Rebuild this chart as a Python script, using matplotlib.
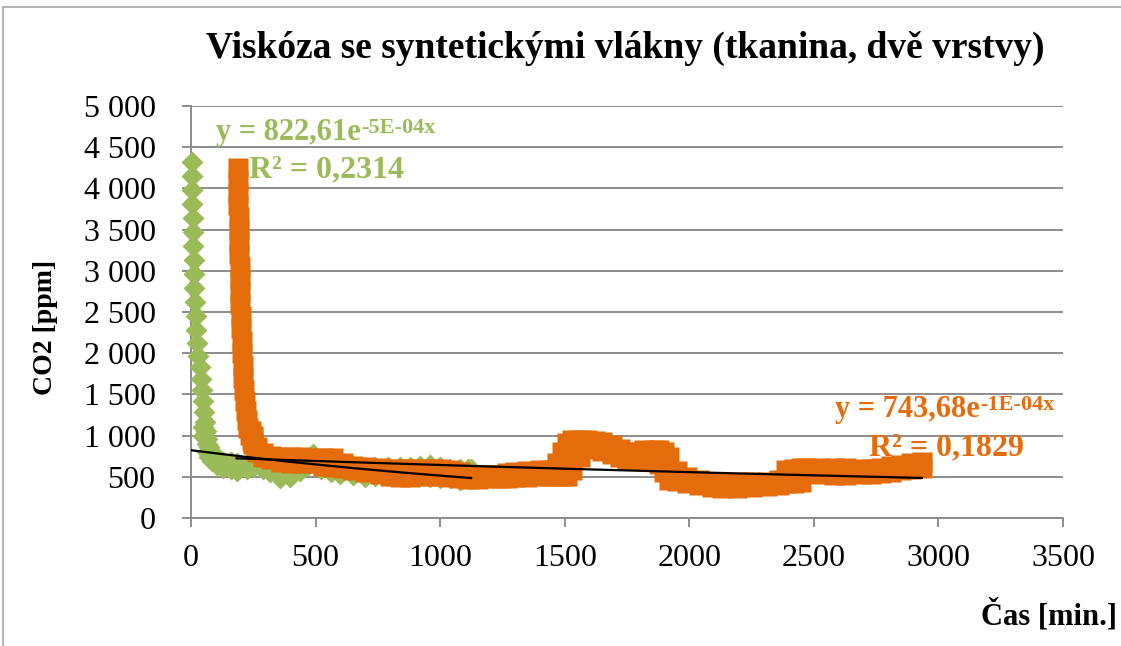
import matplotlib
matplotlib.use("Agg")
import matplotlib.pyplot as plt
from matplotlib.patches import Rectangle
from matplotlib.ticker import FuncFormatter
import numpy as np

# ---- measured CO2 readings -------------------------------------------------
# Green series: steep initial drop (single readings), then the noisy plateau
# given as upper / lower readings at each time.
green_drop_t = [3, 4, 5, 6, 7, 8, 9, 11, 12, 14, 16, 19, 22, 26, 30, 35, 40,
                44, 48, 52, 56, 60, 65]
green_drop_ppm = [4320, 4150, 3980, 3810, 3640, 3470, 3300, 3130, 2960, 2790,
                  2620, 2450, 2280, 2120, 1970, 1830, 1690, 1550, 1420, 1290,
                  1170, 1060, 960]
green_t = [50, 64, 72, 85, 104, 130, 160, 183, 224, 250, 290, 317, 357, 397,
           438, 464, 490, 520, 560, 600, 650, 700, 740, 790, 840, 880, 920,
           960, 1000, 1040, 1080, 1110, 1125]
green_hi = [1100, 900, 860, 800, 730, 680, 680, 670, 650, 640, 640, 640, 640,
            640, 650, 680, 777, 700, 650, 640, 630, 620, 620, 620, 620, 625,
            630, 644, 620, 600, 590, 595, 590]
green_lo = [1000, 800, 740, 690, 643, 610, 590, 571, 600, 620, 590, 560, 486,
            500, 571, 631, 668, 600, 560, 530, 520, 500, 505, 515, 520, 515,
            505, 495, 490, 480, 461, 480, 500]

# Orange series
orange_drop_t = [189, 189, 190, 190, 191, 192, 193, 194, 195, 196, 197, 198,
                 200, 201, 203, 205, 207, 209, 212, 215, 219, 223, 228, 235,
                 240, 243, 250]
orange_drop_ppm = [4250, 4100, 3950, 3800, 3650, 3500, 3350, 3200, 3050, 2900,
                   2750, 2600, 2450, 2300, 2150, 2000, 1850, 1700, 1550, 1420,
                   1300, 1190, 1090, 1010, 1060, 950, 1000]
orange_t = [250, 265, 290, 320, 360, 400, 440, 490, 530, 570, 610, 650, 700,
            760, 800, 840, 880, 920, 970, 1000, 1040, 1080, 1110, 1150, 1200,
            1240, 1270, 1300, 1350, 1400, 1440, 1470, 1490, 1510, 1530, 1560,
            1590, 1620, 1650, 1690, 1720, 1750, 1800, 1820, 1860, 1880, 1900,
            1920, 1950, 1990, 2040, 2090, 2130, 2190, 2250, 2310, 2360, 2390,
            2420, 2450, 2470, 2520, 2580, 2630, 2690, 2730, 2770, 2810, 2850,
            2890, 2934]
orange_hi = [940, 862, 790, 750, 745, 740, 735, 732, 732, 732, 665, 635, 625,
             610, 598, 590, 590, 590, 590, 590, 588, 555, 525, 525, 525, 525,
             545, 562, 572, 580, 585, 668, 800, 911, 950, 950, 950, 938, 922,
             882, 842, 805, 805, 828, 828, 828, 800, 741, 571, 498, 461, 437,
             425, 425, 437, 437, 461, 583, 600, 610, 610, 610, 610, 610, 590,
             600, 610, 628, 646, 668, 682]
orange_lo = [900, 800, 740, 710, 675, 670, 668, 664, 636, 615, 606, 578, 560,
             540, 515, 494, 500, 510, 515, 505, 494, 480, 470, 475, 480, 480,
             488, 494, 500, 505, 505, 505, 505, 515, 583, 741, 850, 835, 815,
             775, 735, 700, 700, 700, 700, 650, 560, 465, 445, 420, 396, 372,
             360, 360, 372, 384, 397, 420, 426, 432, 542, 530, 524, 518, 530,
             536, 542, 560, 580, 592, 605]

# Exponential trend lines  y = a * exp(-k * t)
green_fit_a, green_fit_k, green_fit_r2 = 822.61, 4.7e-4, 0.2314
orange_fit_a, orange_fit_k, orange_fit_r2 = 743.68, 1.45e-4, 0.1829
green_fit_range = (0, 1124)
orange_fit_range = (183, 2934)

x_ticks = [0, 500, 1000, 1500, 2000, 2500, 3000, 3500]
y_ticks = [0, 500, 1000, 1500, 2000, 2500, 3000, 3500, 4000, 4500, 5000]

title = "Viskóza se syntetickými vlákny (tkanina, dvě vrstvy)"
x_label = "Čas [min.]"
y_label = "CO2 [ppm]"

GREEN = "#9BBB59"
ORANGE = "#E46C0A"
GRID = "#8C8C8C"
SERIF = ["Liberation Serif", "DejaVu Serif"]

plt.rcParams["font.family"] = SERIF

W, H = 1121, 646
fig = plt.figure(figsize=(W / 100, H / 100), dpi=100)
ax = fig.add_axes([191 / W, 1 - 518 / H, 872 / W, 412 / H])

# chart frame
fig.patches.append(Rectangle((3 / W, -0.1), 1.2, 1 - 7 / H + 0.1,
                             transform=fig.transFigure, fill=False,
                             ec="#A6A6A6", lw=1.2))

# data markers
marker_style = dict(ls="none", mec="none", clip_on=False)
ax.plot(green_drop_t, green_drop_ppm, marker="D", ms=11, color=GREEN,
        zorder=3, **marker_style)
ax.plot(green_t + green_t, green_hi + green_lo, marker="D", ms=11,
        color=GREEN, zorder=3, **marker_style)
ax.plot(orange_drop_t, orange_drop_ppm, marker="s", ms=15, color=ORANGE,
        zorder=4, **marker_style)
ax.plot(orange_t + orange_t, orange_hi + orange_lo, marker="s", ms=15,
        color=ORANGE, zorder=4, **marker_style)

# trend lines
for a, k, (t0, t1) in [(green_fit_a, green_fit_k, green_fit_range),
                       (orange_fit_a, orange_fit_k, orange_fit_range)]:
    tt = np.linspace(t0, t1, 200)
    ax.plot(tt, a * np.exp(-k * tt), color="black", lw=1.6, zorder=5)

ax.set_xlim(0, 3500)
ax.set_ylim(0, 5000)
ax.set_xticks(x_ticks)
ax.set_yticks(y_ticks)
ax.yaxis.set_major_formatter(
    FuncFormatter(lambda v, p: f"{int(v):,}".replace(",", " ")))
ax.xaxis.set_major_formatter(FuncFormatter(lambda v, p: f"{int(v)}"))

ax.grid(axis="y", color=GRID, lw=1.4, zorder=1)
ax.set_axisbelow(True)
for side in ("top", "right"):
    ax.spines[side].set_visible(False)
for side in ("left", "bottom"):
    ax.spines[side].set_color(GRID)
    ax.spines[side].set_linewidth(1.4)
ax.tick_params(axis="both", direction="out", length=6.5, width=1.4,
               color=GRID, labelsize=23, labelcolor="black")
ax.tick_params(axis="y", pad=19)
ax.tick_params(axis="x", pad=12)

fig.text(625 / W, 1 - 48 / H, title, ha="center", va="center",
         fontsize=27, fontweight="bold")
fig.text(45 / W, 1 - 327 / H, y_label, rotation=90, ha="center",
         va="center", fontsize=20, fontweight="bold")
fig.text(1117 / W, 1 - 615 / H, x_label, ha="right", va="center",
         fontsize=22, fontweight="bold")


def fit_label(x_px, base_px, a, k, r2, color, r2_x_px, r2_base_px):
    main = fig.text(x_px / W, 1 - base_px / H,
                    f"y = {a:.2f}".replace(".", ",") + "e",
                    ha="left", va="baseline", fontsize=22,
                    fontweight="bold", color=color)
    sup = f"{-k:.0E}" + "x"
    ax.annotate(sup, xy=(1, 1), xycoords=main, xytext=(0, 0),
                textcoords="offset points", ha="left", va="top",
                fontsize=16, fontweight="bold", color=color)
    fig.text(r2_x_px / W, 1 - r2_base_px / H,
             f"R² = {r2:.4f}".replace(".", ","), ha="left", va="baseline",
             fontsize=23, fontweight="bold", color=color)


fit_label(216, 140, green_fit_a, green_fit_k, green_fit_r2, GREEN, 249, 177)
fit_label(835, 417, orange_fit_a, orange_fit_k, orange_fit_r2, ORANGE,
          869, 455)

fig.savefig("out.png", dpi=100)
